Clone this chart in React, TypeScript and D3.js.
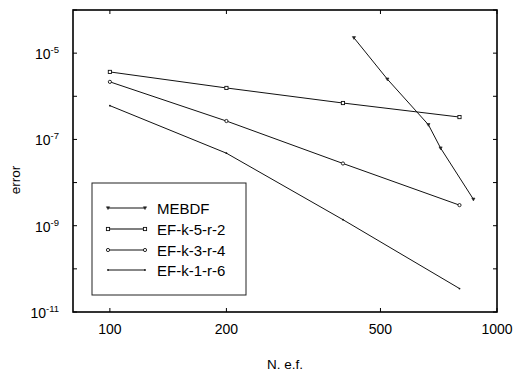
import React from "react";
import * as d3 from "d3";

const xTicks = [100, 200, 500, 1000];
const yTickExps = [-11, -10, -9, -8, -7, -6, -5, -4];
const yLabelExps = [-11, -9, -7, -5];

const nEF = [100, 200, 400, 800];
const ef52 = [3.67e-6, 1.56e-6, 6.98e-7, 3.3e-7];
const ef34 = [2.16e-6, 2.67e-7, 2.77e-8, 3.0e-9];
const ef16 = [6.07e-7, 4.8e-8, 1.38e-9, 3.5e-11];
const mebdfN = [427, 521, 665, 715, 869];
const mebdfErr = [2.27e-5, 2.49e-6, 2.19e-7, 6.3e-8, 4.1e-9];

const seriesNames = ["MEBDF", "EF-k-5-r-2", "EF-k-3-r-4", "EF-k-1-r-6"];

const W = 515, H = 372;
const L = 73, R = 497, T = 10, B = 312;

export default function App() {
  const x = d3.scaleLog().domain([80.3, 1000]).range([L, R]);
  const y = d3.scaleLog().domain([1e-11, 1e-4]).range([B, T]);
  const line = d3.line<[number, number]>().x(d => x(d[0])).y(d => y(d[1]));

  const series = [
    { name: seriesNames[0], pts: mebdfN.map((n, i) => [n, mebdfErr[i]] as [number, number]), m: "tri" },
    { name: seriesNames[1], pts: nEF.map((n, i) => [n, ef52[i]] as [number, number]), m: "sq" },
    { name: seriesNames[2], pts: nEF.map((n, i) => [n, ef34[i]] as [number, number]), m: "circ" },
    { name: seriesNames[3], pts: nEF.map((n, i) => [n, ef16[i]] as [number, number]), m: "dot" },
  ];

  const marker = (m: string, cx: number, cy: number, k: string) => {
    if (m === "tri") return <path key={k} d={`M${cx - 1.6},${cy - 1.2}L${cx + 1.6},${cy - 1.2}L${cx},${cy + 1.6}Z`} fill="#222" stroke="#222" strokeWidth={0.6} />;
    if (m === "sq") return <rect key={k} x={cx - 1.6} y={cy - 1.6} width={3.2} height={3.2} fill="white" stroke="#111" strokeWidth={0.9} />;
    if (m === "circ") return <circle key={k} cx={cx} cy={cy} r={1.6} fill="white" stroke="#111" strokeWidth={0.9} />;
    return <circle key={k} cx={cx} cy={cy} r={0.9} fill="#111" />;
  };

  const font = "'Liberation Sans', Arial, sans-serif";
  const legX = 92, legY = 183, legW = 154, legH = 112;
  const legRows = [208, 229, 250, 270];

  return (
    <svg width={W} height={H} style={{ position: "absolute", left: 0, top: 0 }} fontFamily={font}>
      <rect x={0} y={0} width={W} height={H} fill="white" />
      {xTicks.map(t => (
        <g key={"xt" + t}>
          <line x1={x(t)} x2={x(t)} y1={B} y2={B - 4} stroke="#000" />
          <line x1={x(t)} x2={x(t)} y1={T} y2={T + 4} stroke="#000" />
          <text x={x(t)} y={334} textAnchor="middle" fontSize={14} fill="#000">{t}</text>
        </g>
      ))}
      {yTickExps.map(e => (
        <g key={"yt" + e}>
          <line x1={L} x2={L + 4} y1={y(Math.pow(10, e))} y2={y(Math.pow(10, e))} stroke="#000" />
          <line x1={R} x2={R - 4} y1={y(Math.pow(10, e))} y2={y(Math.pow(10, e))} stroke="#000" />
        </g>
      ))}
      {yLabelExps.map(e => (
        <text key={"yl" + e} x={59} y={y(Math.pow(10, e)) + 6} textAnchor="end" fontSize={14} fill="#000">
          10<tspan fontSize={9.5} dy={-6}>{e}</tspan>
        </text>
      ))}
      {series.map((s, si) => (
        <g key={"s" + si}>
          <path d={line(s.pts) || ""} fill="none" stroke="#111" strokeWidth={1} />
          {s.pts.map((p, i) => marker(s.m, x(p[0]), y(p[1]), `m${si}-${i}`))}
        </g>
      ))}
      <rect x={L} y={T} width={R - L} height={B - T} fill="none" stroke="#000" strokeWidth={1.6} />
      <rect x={legX} y={legY} width={legW} height={legH} fill="white" stroke="#222" strokeWidth={1} />
      {series.map((s, i) => (
        <g key={"lg" + i}>
          <line x1={108} x2={145} y1={legRows[i]} y2={legRows[i]} stroke={i === 1 ? "#555" : "#111"} strokeWidth={i === 1 ? 1.5 : 1} />
          {marker(s.m, 108, legRows[i], "la" + i)}
          {marker(s.m, 145, legRows[i], "lb" + i)}
          <text x={157} y={legRows[i] + 5.5} fontSize={15} fill="#000">{s.name}</text>
        </g>
      ))}
      <text x={285} y={369} textAnchor="middle" fontSize={13.5} fill="#000">N. e.f.</text>
      <text transform={`translate(20,180) rotate(-90)`} textAnchor="middle" fontSize={13.5} fill="#000">error</text>
    </svg>
  );
}
